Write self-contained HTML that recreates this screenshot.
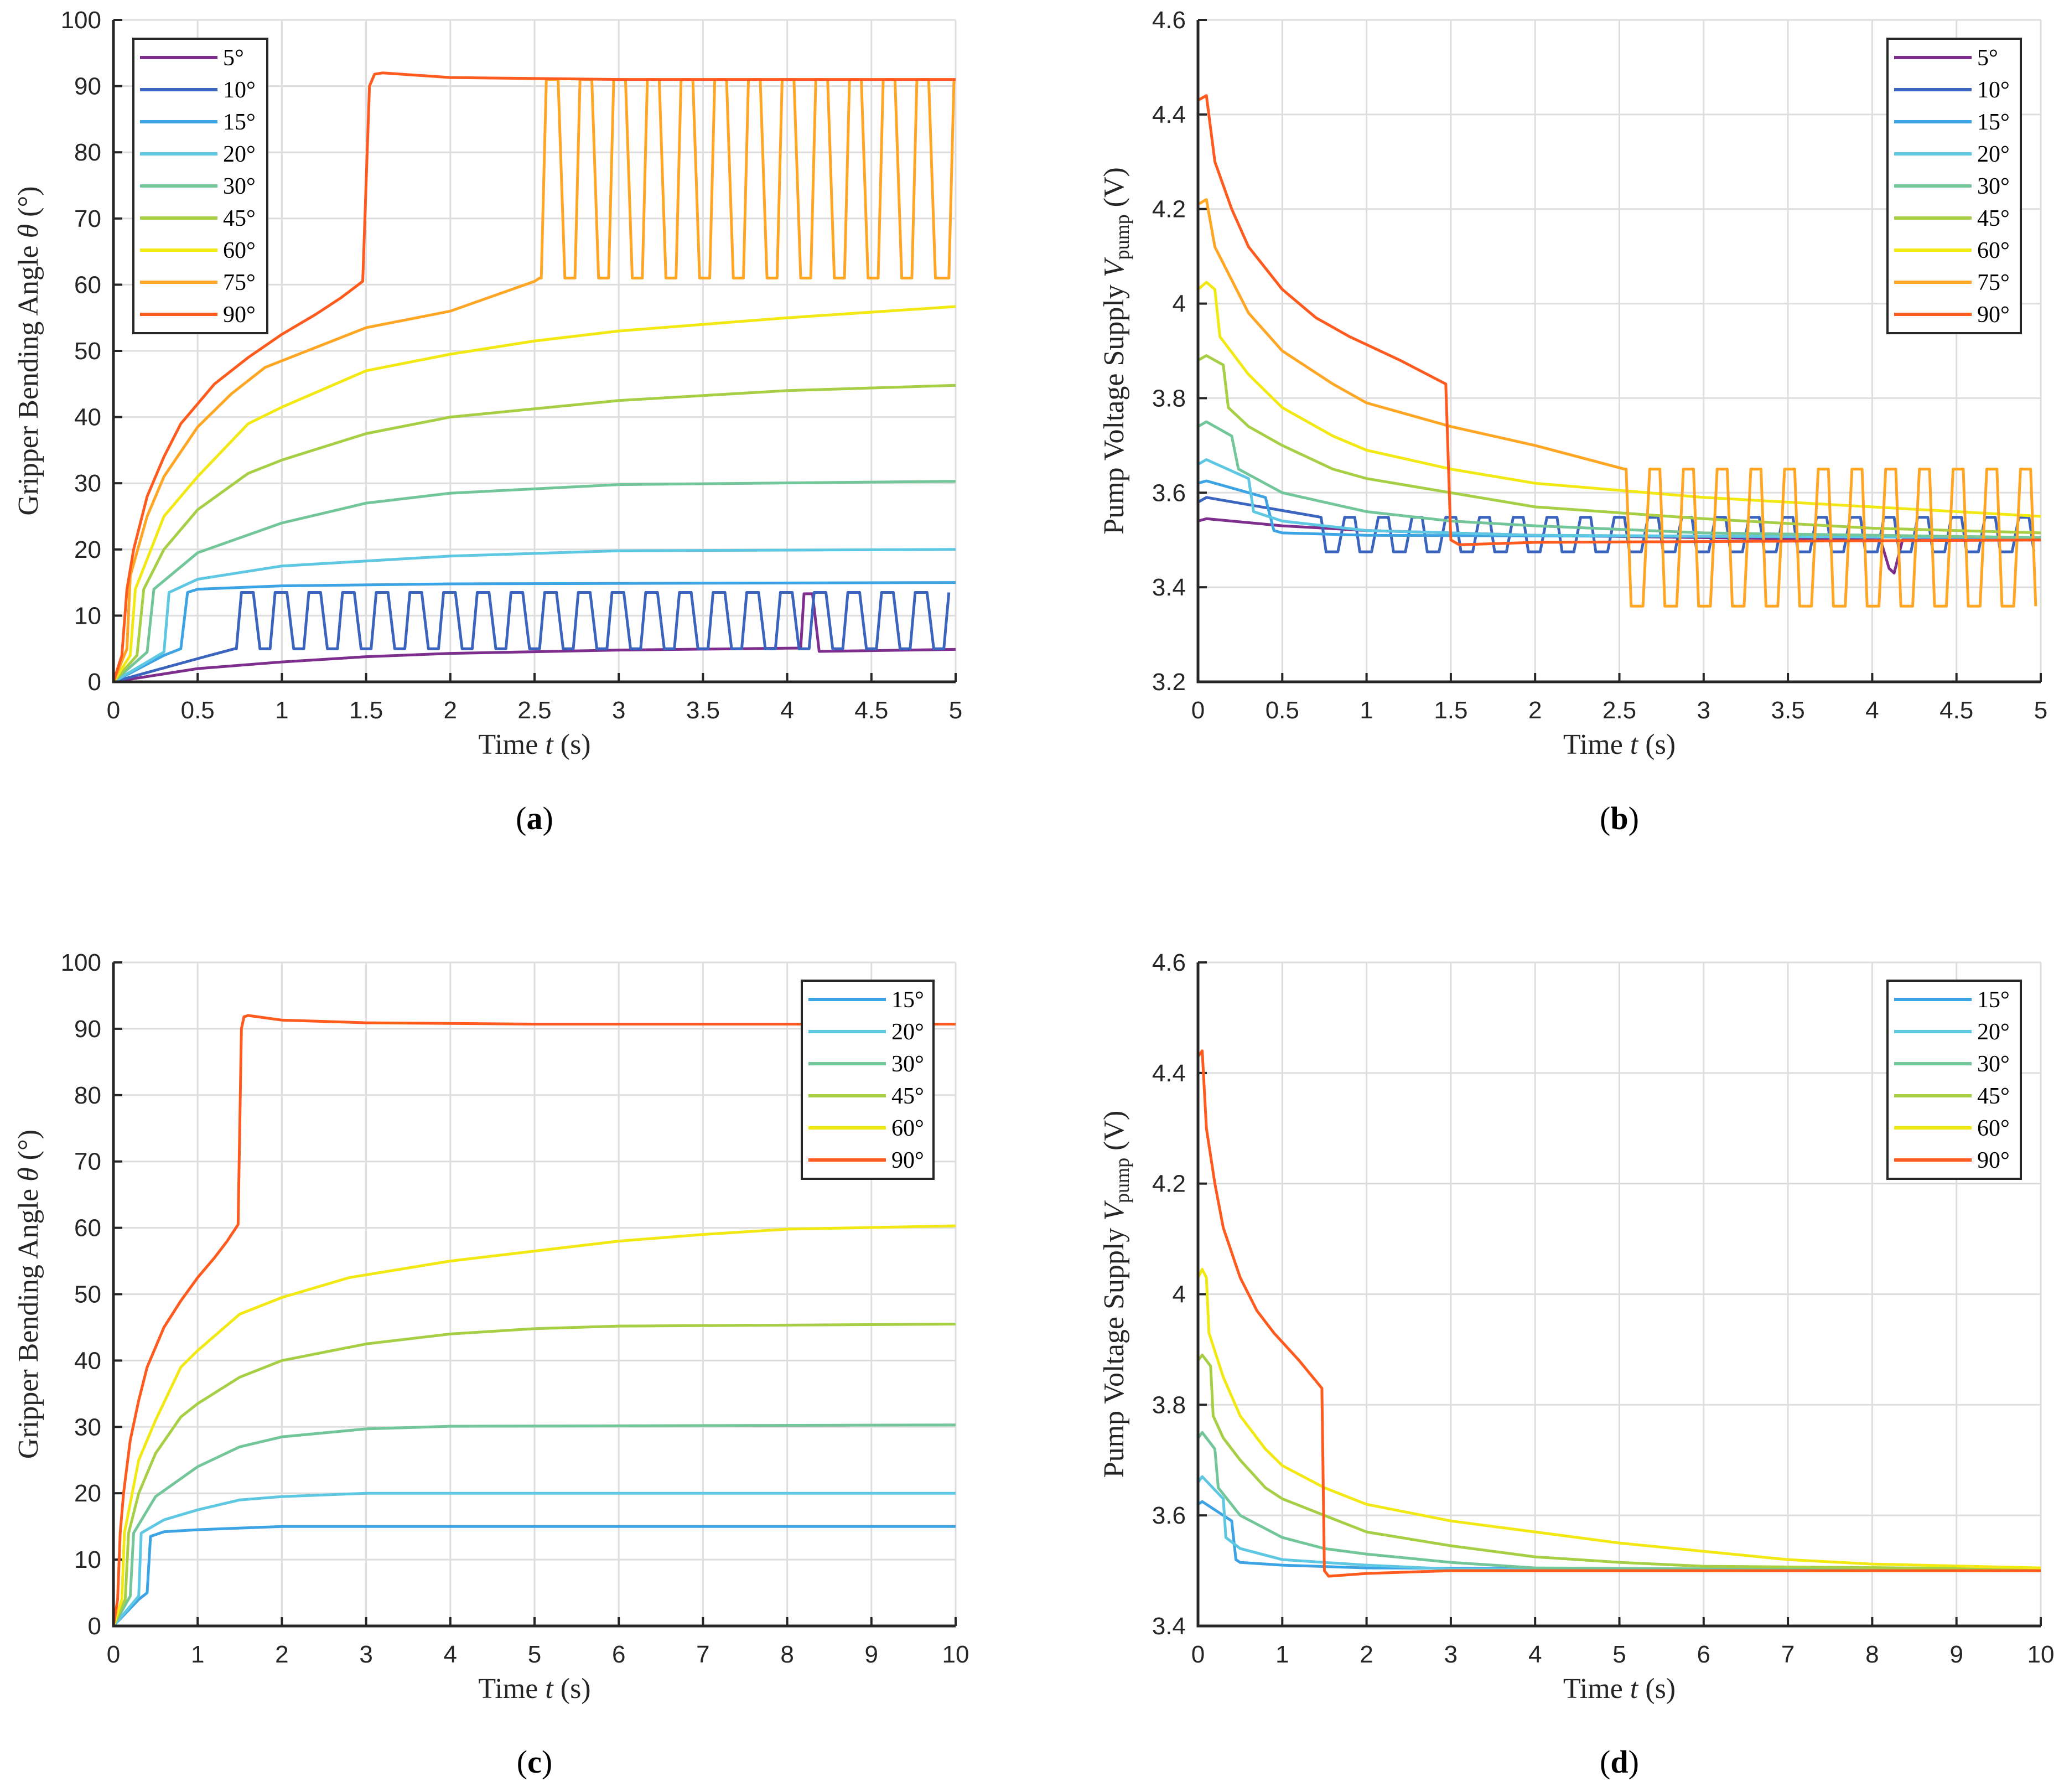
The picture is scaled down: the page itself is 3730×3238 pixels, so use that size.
<!DOCTYPE html>
<html><head><meta charset="utf-8"><title>Gripper charts</title>
<style>
html,body{margin:0;padding:0;background:#fff;}
svg{display:block;}
.tick{font-family:"Liberation Sans Narrow","Liberation Sans",sans-serif;font-size:44px;fill:#262626;}
.lab{font-family:"Liberation Serif",serif;font-size:52px;fill:#262626;}
.leg{font-family:"Liberation Serif",serif;font-size:42px;fill:#000;}
.pl{font-family:"Liberation Serif",serif;font-size:58px;fill:#000;}
</style></head>
<body>
<svg id="fig" xmlns="http://www.w3.org/2000/svg" width="3730" height="3238" viewBox="0 0 3730 3238"></svg>
<script>
// ---------- data ----------
const c10="#3B64BF",c15="#3CA3E4",c20="#5EC7E2",c30="#72C69A",c45="#A6CF45",c60="#F2E914",c75="#FFA625",c90="#FF5B1F",c5="#7E2F8E";
const xTicksA=[0,0.5,1,1.5,2,2.5,3,3.5,4,4.5,5];
const xTickLabelsA=["0","0.5","1","1.5","2","2.5","3","3.5","4","4.5","5"];
const xTicksC=[0,1,2,3,4,5,6,7,8,9,10];
const yTicksAngle=[0,10,20,30,40,50,60,70,80,90,100];
const yTicksB=[3.2,3.4,3.6,3.8,4,4.2,4.4,4.6];
const yTickLabelsB=["3.2","3.4","3.6","3.8","4","4.2","4.4","4.6"];
const yTicksD=[3.4,3.6,3.8,4,4.2,4.4,4.6];
const yTickLabelsD=["3.4","3.6","3.8","4","4.2","4.4","4.6"];
const legendA=["5°","10°","15°","20°","30°","45°","60°","75°","90°"];
const legendC=["15°","20°","30°","45°","60°","90°"];

// panel (a) angle, 0-5 s
const a5=[[0,0],[0.5,2],[1,3],[1.5,3.8],[2,4.3],[3,4.8],[4.08,5.1],[4.1,13.3],[4.15,13.3],[4.19,4.6],[5,4.9]];
const a10Pre=[[0,0],[0.5,3.5],[0.72,5]];
const a10Cycles=[0.73,0.93,1.13,1.33,1.53,1.73,1.93,2.13,2.33,2.53,2.73,2.93,3.13,3.33,3.53,3.73,3.93,4.13,4.33,4.53,4.73,4.93];
const a10Lo=5,a10Hi=13.5;
const a15=[[0,0],[0.3,4],[0.4,5],[0.44,13.5],[0.5,14],[1,14.5],[2,14.8],[5,15]];
const a20=[[0,0],[0.3,4.5],[0.33,13.5],[0.5,15.5],[1,17.5],[2,19],[3,19.8],[5,20]];
const a30=[[0,0],[0.2,4.5],[0.24,14],[0.5,19.5],[1,24],[1.5,27],[2,28.5],[3,29.8],[5,30.3]];
const a45=[[0,0],[0.14,4],[0.18,14],[0.3,20],[0.5,26],[0.8,31.5],[1,33.5],[1.5,37.5],[2,40],[3,42.5],[4,44],[5,44.8]];
const a60=[[0,0],[0.1,4],[0.13,14],[0.3,25],[0.5,31],[0.8,39],[1,41.5],[1.5,47],[2,49.5],[2.5,51.5],[3,53],[4,55],[5,56.7]];
const a75Pre=[[0,0],[0.08,5],[0.1,16],[0.2,25],[0.3,31],[0.5,38.5],[0.7,43.5],[0.9,47.5],[1.2,50.5],[1.5,53.5],[2,56],[2.5,60.5],[2.53,61]];
const a75Cycles=[2.54,2.74,2.94,3.14,3.34,3.54,3.74,3.94,4.14,4.34,4.54,4.74,4.96];
const a75Lo=61,a75Hi=91;
const a90=[[0,0],[0.05,4],[0.08,14],[0.12,20],[0.2,28],[0.3,34],[0.4,39],[0.5,42],[0.6,45],[0.8,49],[1,52.5],[1.2,55.5],[1.35,58],[1.48,60.5],[1.52,90],[1.55,91.8],[1.6,92],[2,91.3],[3,91],[5,91]];

// panel (b) voltage, 0-5 s
const b5=[[0,3.54],[0.05,3.545],[0.5,3.53],[1,3.52],[2,3.51],[3,3.505],[4.05,3.5],[4.1,3.44],[4.13,3.43],[4.18,3.5],[5,3.5]];
const b10Pre=[[0,3.58],[0.05,3.59],[0.7,3.55]];
const b10Cycles=[0.73,0.93,1.13,1.33,1.53,1.73,1.93,2.13,2.33,2.53,2.73,2.93,3.13,3.33,3.53,3.73,3.93,4.13,4.33,4.53,4.73,4.93];
const b10Lo=3.475,b10Hi=3.548;
const b15=[[0,3.62],[0.05,3.625],[0.3,3.6],[0.4,3.59],[0.45,3.52],[0.5,3.515],[1,3.51],[5,3.505]];
const b20=[[0,3.66],[0.05,3.67],[0.3,3.63],[0.33,3.56],[0.5,3.54],[1,3.52],[2,3.51],[5,3.505]];
const b30=[[0,3.74],[0.05,3.75],[0.2,3.72],[0.24,3.65],[0.5,3.6],[1,3.56],[1.5,3.54],[2,3.53],[3,3.515],[5,3.505]];
const b45=[[0,3.88],[0.05,3.89],[0.15,3.87],[0.18,3.78],[0.3,3.74],[0.5,3.7],[0.8,3.65],[1,3.63],[1.5,3.6],[2,3.57],[3,3.545],[4,3.525],[5,3.515]];
const b60=[[0,4.03],[0.05,4.045],[0.1,4.03],[0.13,3.93],[0.3,3.85],[0.5,3.78],[0.8,3.72],[1,3.69],[1.5,3.65],[2,3.62],[3,3.59],[4,3.57],[5,3.55]];
const b75Pre=[[0,4.21],[0.05,4.22],[0.1,4.12],[0.2,4.05],[0.3,3.98],[0.5,3.9],[0.8,3.83],[1,3.79],[1.5,3.74],[2,3.7],[2.53,3.65]];
const b75Cycles=[2.54,2.74,2.94,3.14,3.34,3.54,3.74,3.94,4.14,4.34,4.54,4.74,4.94];
const b75Lo=3.36,b75Hi=3.65;
const b90=[[0,4.43],[0.05,4.44],[0.1,4.3],[0.2,4.2],[0.3,4.12],[0.5,4.03],[0.7,3.97],[0.9,3.93],[1.2,3.88],[1.47,3.83],[1.5,3.5],[1.55,3.49],[2,3.495],[5,3.5]];

// panel (c) angle, 0-10 s
const c15d=[[0,0],[0.3,4],[0.4,5],[0.44,13.5],[0.6,14.2],[1,14.5],[2,15],[10,15]];
const c20d=[[0,0],[0.3,4.5],[0.33,14],[0.6,16],[1,17.5],[1.5,19],[2,19.5],[3,20],[10,20]];
const c30d=[[0,0],[0.2,4.5],[0.24,14],[0.5,19.5],[1,24],[1.5,27],[2,28.5],[3,29.7],[4,30.1],[10,30.3]];
const c45d=[[0,0],[0.14,4],[0.18,14],[0.3,20],[0.5,26],[0.8,31.5],[1,33.5],[1.5,37.5],[2,40],[3,42.5],[4,44],[5,44.8],[6,45.2],[10,45.5]];
const c60d=[[0,0],[0.1,4],[0.13,14],[0.3,25],[0.5,31],[0.8,39],[1,41.5],[1.5,47],[2,49.5],[2.8,52.5],[4,55],[5,56.5],[6,58],[7,59],[8,59.8],[10,60.3]];
const c90d=[[0,0],[0.05,4],[0.08,14],[0.12,20],[0.2,28],[0.3,34],[0.4,39],[0.5,42],[0.6,45],[0.8,49],[1,52.5],[1.2,55.5],[1.35,58],[1.48,60.5],[1.52,90],[1.55,91.8],[1.6,92],[2,91.3],[3,90.9],[5,90.7],[10,90.7]];

// panel (d) voltage, 0-10 s
const d15=[[0,3.62],[0.05,3.625],[0.3,3.6],[0.4,3.59],[0.45,3.52],[0.5,3.515],[1,3.51],[2,3.505],[10,3.5]];
const d20=[[0,3.66],[0.05,3.67],[0.3,3.63],[0.33,3.56],[0.5,3.54],[1,3.52],[2,3.51],[3,3.503],[10,3.5]];
const d30=[[0,3.74],[0.05,3.75],[0.2,3.72],[0.24,3.65],[0.5,3.6],[1,3.56],[1.5,3.54],[2,3.53],[3,3.515],[4,3.505],[10,3.5]];
const d45=[[0,3.88],[0.05,3.89],[0.15,3.87],[0.18,3.78],[0.3,3.74],[0.5,3.7],[0.8,3.65],[1,3.63],[1.5,3.6],[2,3.57],[3,3.545],[4,3.525],[5,3.515],[6,3.508],[10,3.503]];
const d60=[[0,4.03],[0.05,4.045],[0.1,4.03],[0.13,3.93],[0.3,3.85],[0.5,3.78],[0.8,3.72],[1,3.69],[1.5,3.65],[2,3.62],[3,3.59],[4,3.57],[5,3.55],[6,3.535],[7,3.52],[8,3.512],[10,3.505]];
const d90=[[0,4.43],[0.05,4.44],[0.1,4.3],[0.2,4.2],[0.3,4.12],[0.5,4.03],[0.7,3.97],[0.9,3.93],[1.2,3.88],[1.47,3.83],[1.5,3.5],[1.55,3.49],[2,3.495],[3,3.5],[10,3.5]];

// ---------- drawing ----------
const NS="http://www.w3.org/2000/svg";
const svg=document.getElementById("fig");
function mk(tag,attrs,parent){const e=document.createElementNS(NS,tag);for(const k in attrs)e.setAttribute(k,attrs[k]);(parent||svg).appendChild(e);return e;}
function pulses(pre,cycles,lo,hi){const pts=pre.slice();cycles.forEach(s=>{pts.push([s,lo],[s+0.03,hi],[s+0.1,hi],[s+0.14,lo]);});return pts;}
function downPulses(pre,cycles,lo,hi){const pts=pre.slice();cycles.forEach(s=>{pts.push([s,hi],[s+0.03,lo],[s+0.1,lo],[s+0.14,hi]);});return pts;}

function panel(cfg){
  const g=mk("g",{});
  
  
  const X=v=>cfg.x0+(v-cfg.xmin)/(cfg.xmax-cfg.xmin)*(cfg.x1-cfg.x0);
  const Y=v=>cfg.y0-(v-cfg.ymin)/(cfg.ymax-cfg.ymin)*(cfg.y0-cfg.y1);
  cfg.xt.forEach((t,i)=>{
    const l=mk("line",{x1:X(t),x2:X(t),y1:cfg.y1,y2:cfg.y0,stroke:"#dedede","stroke-width":3},g);
    
    
    const tk=mk("line",{x1:X(t),x2:X(t),y1:cfg.y0,y2:cfg.y0-16,stroke:"#262626","stroke-width":4},g);
    
    
    const tx=mk("text",{x:X(t),y:cfg.y0+66,"text-anchor":"middle",class:"tick"},g);
    tx.textContent=cfg.xl[i];
    
    
  });
  cfg.yt.forEach((t,i)=>{
    const l=mk("line",{x1:cfg.x0,x2:cfg.x1,y1:Y(t),y2:Y(t),stroke:"#dedede","stroke-width":3},g);
    
    
    const tk=mk("line",{x1:cfg.x0,x2:cfg.x0+16,y1:Y(t),y2:Y(t),stroke:"#262626","stroke-width":4},g);
    
    
    const tx=mk("text",{x:cfg.x0-22,y:Y(t)+15,"text-anchor":"end",class:"tick"},g);
    tx.textContent=cfg.yl[i];
    
    
  });
  cfg.series.forEach(s=>{
    const d=s.pts.filter(p=>p[0]<=cfg.xmax).map((p,i)=>(i?"L":"M")+X(p[0]).toFixed(1)+","+Y(p[1]).toFixed(1)).join("");
    const p=mk("path",{d:d,fill:"none",stroke:s.c,"stroke-width":5,"stroke-linejoin":"round"},g);
    
    
  });
  const ax=mk("path",{d:`M${cfg.x0},${cfg.y1}L${cfg.x0},${cfg.y0}L${cfg.x1},${cfg.y0}`,fill:"none",stroke:"#262626","stroke-width":5},g);
  
  
  const xl=mk("text",{x:(cfg.x0+cfg.x1)/2,y:cfg.y0+130,"text-anchor":"middle",class:"lab"},g);
  xl.innerHTML='Time <tspan font-style="italic">t</tspan> (s)';
  
  
  const yl=mk("text",{x:0,y:0,"text-anchor":"middle",class:"lab",transform:`translate(${cfg.ylx},${(cfg.y0+cfg.y1)/2}) rotate(-90)`},g);
  yl.innerHTML=cfg.ylab;
  
  
  const pl=mk("text",{x:(cfg.x0+cfg.x1)/2,y:cfg.ply,"text-anchor":"middle",class:"pl"},g);
  pl.innerHTML='(<tspan font-weight="bold">'+cfg.letter+'</tspan>)';
  
  
  const lg=mk("g",{},g);
  
  
  const n=cfg.series.length;
  mk("rect",{x:cfg.lx,y:cfg.ly,width:cfg.lw,height:n*58+10,fill:"#fff",stroke:"#262626","stroke-width":4},lg);
  cfg.series.forEach((s,i)=>{
    const yy=cfg.ly+34+i*58;
    const e=mk("g",{},lg);
    
    
    mk("line",{x1:cfg.lx+12,x2:cfg.lx+152,y1:yy,y2:yy,stroke:s.c,"stroke-width":6},e);
    const t=mk("text",{x:cfg.lx+162,y:yy+14,class:"leg"},e);
    t.textContent=cfg.leg[i];
  });
}

const angleLab='Gripper Bending Angle <tspan font-style="italic">θ</tspan> (°)';
const voltLab='Pump Voltage Supply <tspan font-style="italic">V</tspan><tspan font-size="36" dy="10">pump</tspan><tspan dy="-10"> (V)</tspan>';

panel({name:"panel-a",letter:"a",x0:205,x1:1727,y0:1232,y1:36,xmin:0,xmax:5,ymin:0,ymax:100,
  xt:xTicksA,xl:xTickLabelsA,yt:yTicksAngle,yl:yTicksAngle.map(String),ylx:68,ylab:angleLab,ply:1498,
  lx:241,ly:70,lw:242,leg:legendA,
  series:[{n:"5deg",c:c5,pts:a5},{n:"10deg",c:c10,pts:pulses(a10Pre,a10Cycles,a10Lo,a10Hi)},{n:"15deg",c:c15,pts:a15},{n:"20deg",c:c20,pts:a20},
  {n:"30deg",c:c30,pts:a30},{n:"45deg",c:c45,pts:a45},{n:"60deg",c:c60,pts:a60},{n:"75deg",c:c75,pts:pulses(a75Pre,a75Cycles,a75Lo,a75Hi)},{n:"90deg",c:c90,pts:a90}]});

panel({name:"panel-b",letter:"b",x0:2165,x1:3688,y0:1232,y1:36,xmin:0,xmax:5,ymin:3.2,ymax:4.6,
  xt:xTicksA,xl:xTickLabelsA,yt:yTicksB,yl:yTickLabelsB,ylx:2030,ylab:voltLab,ply:1498,
  lx:3411,ly:70,lw:241,leg:legendA,
  series:[{n:"5deg",c:c5,pts:b5},{n:"10deg",c:c10,pts:downPulses(b10Pre,b10Cycles,b10Lo,b10Hi)},{n:"15deg",c:c15,pts:b15},{n:"20deg",c:c20,pts:b20},
  {n:"30deg",c:c30,pts:b30},{n:"45deg",c:c45,pts:b45},{n:"60deg",c:c60,pts:b60},{n:"75deg",c:c75,pts:downPulses(b75Pre,b75Cycles,b75Lo,b75Hi)},{n:"90deg",c:c90,pts:b90}]});

panel({name:"panel-c",letter:"c",x0:205,x1:1727,y0:2938,y1:1739,xmin:0,xmax:10,ymin:0,ymax:100,
  xt:xTicksC,xl:xTicksC.map(String),yt:yTicksAngle,yl:yTicksAngle.map(String),ylx:68,ylab:angleLab,ply:3203,
  lx:1449,ly:1772,lw:238,leg:legendC,
  series:[{n:"15deg",c:c15,pts:c15d},{n:"20deg",c:c20,pts:c20d},{n:"30deg",c:c30,pts:c30d},{n:"45deg",c:c45,pts:c45d},{n:"60deg",c:c60,pts:c60d},{n:"90deg",c:c90,pts:c90d}]});

panel({name:"panel-d",letter:"d",x0:2165,x1:3688,y0:2938,y1:1739,xmin:0,xmax:10,ymin:3.4,ymax:4.6,
  xt:xTicksC,xl:xTicksC.map(String),yt:yTicksD,yl:yTickLabelsD,ylx:2030,ylab:voltLab,ply:3203,
  lx:3411,ly:1772,lw:241,leg:legendC,
  series:[{n:"15deg",c:c15,pts:d15},{n:"20deg",c:c20,pts:d20},{n:"30deg",c:c30,pts:d30},{n:"45deg",c:c45,pts:d45},{n:"60deg",c:c60,pts:d60},{n:"90deg",c:c90,pts:d90}]});
</script>
</body></html>
